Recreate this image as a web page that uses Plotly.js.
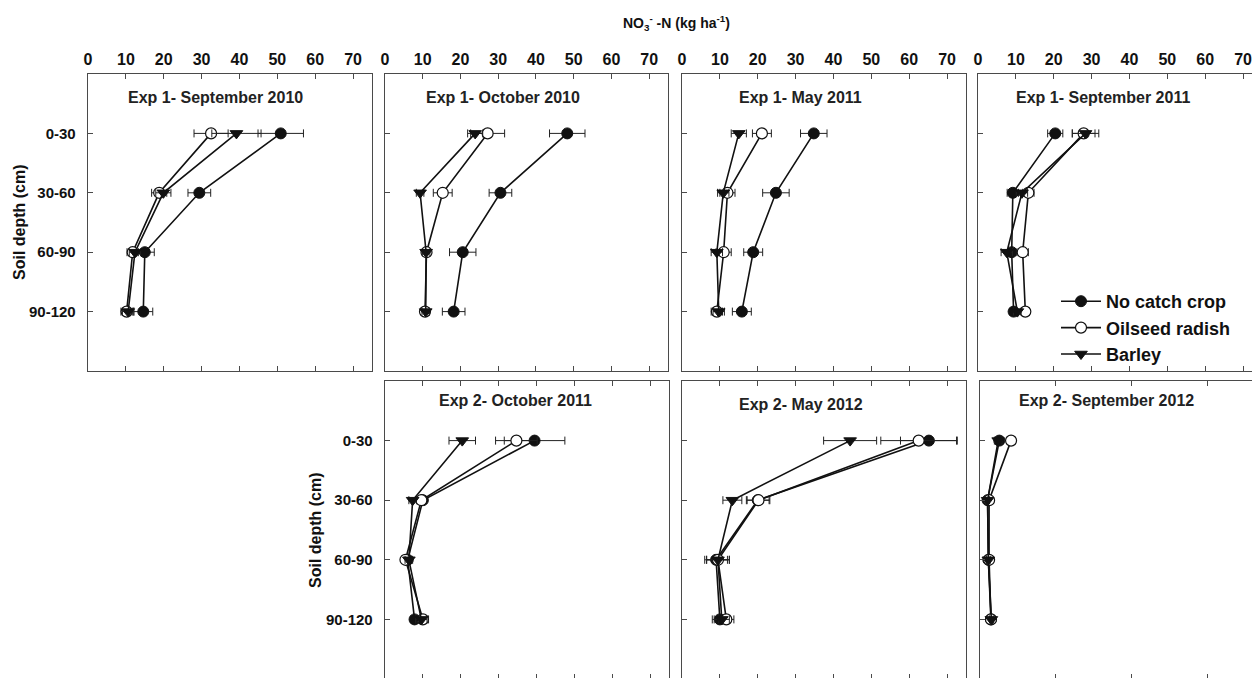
<!DOCTYPE html>
<html>
<head>
<meta charset="utf-8">
<script src="https://cdn.plot.ly/plotly-3.0.1.min.js"></script>
<style>
html, body { margin: 0; padding: 0; overflow: hidden; background: #fff; }
#chart { width: 1266px; height: 682px; }
</style>
</head>
<body>
<div id="chart"></div>
<script>
// ---------- data ----------
const depths = ['0-30', '30-60', '60-90', '90-120'];
const panelTitles = [
  'Exp 1- September 2010', 'Exp 1- October 2010', 'Exp 1- May 2011', 'Exp 1- September 2011',
  'Exp 2- October 2011', 'Exp 2- May 2012', 'Exp 2- September 2012'
];
const seriesNames = ['No catch crop', 'Oilseed radish', 'Barley'];

// NO3--N (kg/ha) per panel, one row per depth order above
const noCatchCrop = [
  [50.9, 29.4, 15.0, 14.6],
  [48.3, 30.6, 20.6, 18.2],
  [34.8, 24.8, 18.8, 15.8],
  [20.4, 9.2, 8.9, 9.4],
  [39.5, 10.0, 6.0, 7.8],
  [65.2, 20.0, 9.0, 10.0],
  [5.1, 2.0, 2.2, 2.9]
];
const noCatchCropErr = [
  [6.0, 3.0, 2.5, 2.5],
  [4.7, 3.0, 3.5, 3.0],
  [3.5, 3.5, 2.5, 2.5],
  [2.0, 1.5, 1.0, 1.0],
  [8.0, 1.0, 1.0, 1.0],
  [7.5, 3.0, 3.0, 2.0],
  [1.0, 0.5, 0.5, 0.5]
];
const oilseedRadish = [
  [32.5, 18.8, 11.8, 10.2],
  [27.2, 15.3, 11.0, 10.6],
  [21.1, 12.0, 11.0, 9.2],
  [27.9, 13.3, 11.8, 12.5],
  [34.7, 9.6, 5.4, 10.0],
  [62.5, 20.2, 9.5, 11.7],
  [8.2, 2.4, 2.4, 2.9]
];
const oilseedRadishErr = [
  [4.5, 2.0, 1.5, 1.5],
  [4.5, 2.5, 1.0, 1.0],
  [2.5, 2.0, 2.0, 1.5],
  [3.0, 1.5, 1.5, 1.0],
  [5.5, 1.0, 1.0, 1.5],
  [10.0, 3.0, 3.0, 2.0],
  [1.0, 0.5, 0.5, 0.5]
];
const barley = [
  [39.2, 19.9, 12.4, 10.6],
  [23.9, 9.3, 10.9, 10.8],
  [15.0, 10.9, 9.2, 9.7],
  [28.4, 11.6, 7.6, 10.4],
  [20.4, 7.3, 6.3, 9.6],
  [44.4, 13.3, 9.5, 10.5],
  [4.8, 2.0, 2.2, 3.0]
];
const barleyErr = [
  [6.5, 2.0, 1.5, 1.5],
  [2.0, 1.0, 1.0, 1.0],
  [2.0, 1.5, 1.5, 1.5],
  [3.5, 1.5, 1.5, 1.0],
  [3.5, 1.0, 1.0, 1.5],
  [7.0, 2.5, 3.0, 2.0],
  [1.0, 0.5, 0.5, 0.5]
];
const xTickStep = [10, 10, 10, 10, 10, 10, 20];

// ---------- layout geometry (pixels) ----------
const W = 1266, H = 682;
const panels = [
  {x0: 88,  x1: 372,  y0: 74,  y1: 371, topLabels: true,  yLabels: true,  tx: 10.0},
  {x0: 385, x1: 668,  y0: 74,  y1: 371, topLabels: true,  yLabels: false, tx: 10.3},
  {x0: 682, x1: 966,  y0: 74,  y1: 371, topLabels: true,  yLabels: false, tx: 14.5},
  {x0: 978, x1: 1262, y0: 74,  y1: 371, topLabels: true,  yLabels: false, tx: 9.5},
  {x0: 385, x1: 669,  y0: 381, y1: 679, topLabels: false, yLabels: true,  tx: 13.7},
  {x0: 682, x1: 966,  y0: 381, y1: 679, topLabels: false, yLabels: false, tx: 14.5},
  {x0: 980, x1: 1264, y0: 381, y1: 679, topLabels: false, yLabels: false, tx: 9.7}
];
const titleY = [-0.6, -0.6, -0.6, -0.6, -0.68, -0.6, -0.68];
const px = v => v / W;
const py = v => 1 - v / H;

const FONT = 'Liberation Sans, Arial, Helvetica, sans-serif';
const AX = '#4a4a4a';

const styles = [
  {symbol: 'circle', color: '#111', line: {color: '#111', width: 1}},
  {symbol: 'circle', color: '#fff', line: {color: '#111', width: 1.2}},
  {symbol: 'triangle-down', color: '#111', line: {color: '#111', width: 1}}
];
const values = [noCatchCrop, oilseedRadish, barley];
const errors = [noCatchCropErr, oilseedRadishErr, barleyErr];

const traces = [];
const layout = {
  width: W, height: H,
  margin: {l: 0, r: 0, t: 0, b: 0},
  paper_bgcolor: '#fff', plot_bgcolor: '#fff',
  font: {family: FONT, color: '#111'},
  showlegend: true,
  legend: {
    x: px(1056), y: py(283), xanchor: 'left', yanchor: 'top',
    bgcolor: 'rgba(0,0,0,0)',
    tracegroupgap: 0,
    font: {family: FONT, size: 18, weight: 'bold', color: '#111'},
    itemwidth: 40
  },
  annotations: [],
  shapes: []
};

panels.forEach((p, i) => {
  const n = i + 1;
  const xa = 'x' + (n === 1 ? '' : n);
  const ya = 'y' + (n === 1 ? '' : n);
  layout['xaxis' + (n === 1 ? '' : n)] = {
    domain: [px(p.x0), px(p.x1)],
    anchor: ya,
    side: 'top',
    range: [0, 75],
    tick0: 0, dtick: xTickStep[i],
    ticks: 'inside', ticklen: 5, tickwidth: 1, tickcolor: AX,
    showline: true, linecolor: AX, linewidth: 1.3,
    mirror: 'ticks',
    showgrid: false, zeroline: false,
    showticklabels: p.topLabels,
    tickfont: {family: FONT, size: 16, weight: 'bold', color: '#111'},
    ticklabelstandoff: 1,
    fixedrange: true, automargin: false
  };
  layout['yaxis' + (n === 1 ? '' : n)] = {
    domain: [py(p.y1), py(p.y0)],
    anchor: xa,
    type: 'category',
    categoryorder: 'array', categoryarray: depths,
    range: [4, -1],
    ticks: 'inside', ticklen: 5, tickwidth: 1, tickcolor: AX,
    showline: true, linecolor: AX, linewidth: 1.3,
    mirror: true,
    showgrid: false, zeroline: false,
    showticklabels: p.yLabels,
    tickfont: {family: FONT, size: 15, weight: 'bold', color: '#111'},
    ticklabelstandoff: 8,
    fixedrange: true, automargin: false
  };
  layout.annotations.push({
    xref: xa, yref: ya, x: p.tx, y: titleY[i],
    xanchor: 'left', yanchor: 'middle',
    text: panelTitles[i], showarrow: false,
    font: {family: FONT, size: 16, weight: 'bold', color: '#222'}
  });
  values.forEach((vals, s) => {
    traces.push({
      type: 'scatter', mode: 'lines+markers',
      name: seriesNames[s],
      showlegend: i === 0,
      x: vals[i], y: depths,
      xaxis: xa, yaxis: ya,
      line: {color: '#111', width: 1.6},
      marker: {symbol: styles[s].symbol, size: 11, color: styles[s].color, line: styles[s].line},
      error_x: {type: 'data', array: errors[s][i], visible: true, color: '#222', thickness: 1, width: 4},
      cliponaxis: false,
      hoverinfo: 'skip'
    });
  });
});

// axis titles
layout.annotations.push({
  xref: 'paper', yref: 'paper', x: px(676), y: py(23),
  xanchor: 'center', yanchor: 'middle', showarrow: false,
  text: 'NO<sub>3</sub><sup>-</sup> -N (kg ha<sup>-1</sup>)',
  font: {family: FONT, size: 14, weight: 'bold', color: '#111'}
});
[[20, 222], [315, 530]].forEach(([cx, cy]) => {
  layout.annotations.push({
    xref: 'paper', yref: 'paper', x: px(cx), y: py(cy),
    xanchor: 'center', yanchor: 'middle', showarrow: false,
    textangle: -90, text: 'Soil depth (cm)',
    font: {family: FONT, size: 16, weight: 'bold', color: '#111'}
  });
});

Plotly.newPlot('chart', traces, layout, {displayModeBar: false, staticPlot: true});
</script>
</body>
</html>
